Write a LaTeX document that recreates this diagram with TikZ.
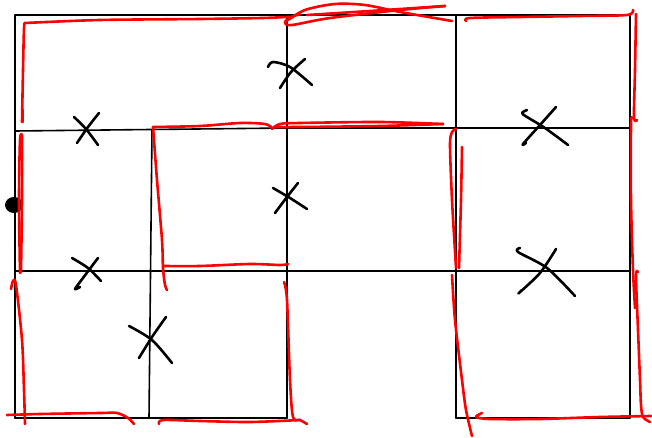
\documentclass[tikz,border=0pt]{standalone}
\begin{document}
\begin{tikzpicture}[x=1pt,y=-1pt,
  gridline/.style={line width=1.6pt,black,line cap=round},
  redline/.style={line width=2.6pt,red,line cap=round,line join=round},
  xmark/.style={line width=2.6pt,black,line cap=round,line join=round}]
\useasboundingbox (0,0) rectangle (652,438);
% black grid
\draw[gridline] (15,15) -- (630,15);
\draw[gridline] (15,15) -- (15,418);
\draw[gridline] (630,15) -- (630,418);
\draw[gridline] (287,15) -- (287,418);
\draw[gridline] (456,15) -- (456,418);
\draw[gridline] (15,131) -- (287,128) -- (630,128);
\draw[gridline] (15,271) -- (630,271);
\draw[gridline] (152,130) -- (149,418);
\draw[gridline] (15,418) -- (287,418);
\draw[gridline] (456,418) -- (630,418);
% dot
\fill (14,205) ellipse [x radius=9, y radius=8];
% red strokes
\draw[redline] plot[smooth] coordinates {(22,122)(23,70)(24,28)(25,23)};
\draw[redline] plot[smooth] coordinates {(25,23)(100,20)(200,19)(262,18)(287,17)(293,17)};
\draw[redline] plot[smooth] coordinates {(23,110)(23,122)};
% top scribble
\draw[redline] plot[smooth] coordinates {(300,14)(289,18)(285,23)(292,25)(330,18)(400,10)(445,6)};
\draw[redline] plot[smooth] coordinates {(285,22)(305,10)(335,4)(365,5)(400,12)(452,21)};
\draw[redline] plot[smooth] coordinates {(307,15)(370,11)(445,6)};
% top right
\draw[redline] plot[smooth] coordinates {(466,21)(470,18)(520,17)(580,16)(627,15)(633,10)};
\draw[redline] plot[smooth] coordinates {(636,14)(635,70)(634,117)(637,120)};
\draw[redline] plot[smooth] coordinates {(632,118)(631,125)(631,200)(633,270)(635,308)};
\draw[redline] plot[smooth] coordinates {(638,272)(636,276)(638,330)(640,380)(641,405)(643,417)(650,422)};
% bottom right
\draw[redline] plot[smooth] coordinates {(651,416)(600,417)(540,419)(490,419)(476,417)(482,413)};
\draw[redline] plot[smooth] coordinates {(452,275)(455,320)(462,380)(466,410)(472,436)};
\draw[redline] plot[smooth] coordinates {(462,147)(461,200)(459,268)};
\draw[redline] plot[smooth] coordinates {(456,268)(452,200)(450,145)(452,132)(456,129)};
% middle horizontal loop
\draw[redline] plot[smooth] coordinates {(272,129)(280,124)(300,123)(380,122)(443,124)};
\draw[redline] plot[smooth] coordinates {(443,124)(380,126)(300,127)(275,127)};
% middle-left cell
\draw[redline] plot[smooth] coordinates {(153,127)(200,126)(240,123)(265,124)(272,128)};
\draw[redline] plot[smooth] coordinates {(153,127)(157,180)(162,240)(163,268)(165,285)(167,290)};
\draw[redline] plot[smooth] coordinates {(164,266)(200,266)(250,264)(280,265)(288,264)};
% left side
\draw[redline] plot[smooth] coordinates {(20,273)(19,200)(20,140)(22,135)};
\draw[redline] plot[smooth] coordinates {(22,135)(22,200)(21,272)};
% bottom left
\draw[redline] plot[smooth] coordinates {(11,289)(13,281)(16,285)(22,340)(24,390)(25,424)};
\draw[redline] plot[smooth] coordinates {(7,415)(40,414)(100,413)(117,413)(128,418)(134,424)};
\draw[redline] plot[smooth] coordinates {(284,282)(287,300)(290,380)(293,417)(300,420)(307,424)};
\draw[redline] plot[smooth] coordinates {(159,424)(163,420)(200,421)(250,422)(300,420)};
% X marks
\draw[xmark] plot[smooth] coordinates {(74,117)(86,129)(98,145)};
\draw[xmark] plot[smooth] coordinates {(77,143)(88,127)(99,113)};
\draw[xmark] plot[smooth] coordinates {(268,67)(273,62)(290,67)(312,85)};
\draw[xmark] plot[smooth] coordinates {(280,88)(291,72)(305,59)};
\draw[xmark] plot[smooth] coordinates {(273,188)(290,198)(307,209)};
\draw[xmark] plot[smooth] coordinates {(275,213)(287,197)(298,183)};
\draw[xmark] plot[smooth] coordinates {(72,258)(88,268)(101,281)};
\draw[xmark] plot[smooth] coordinates {(98,258)(83,278)(75,289)(80,287)};
\draw[xmark] plot[smooth] coordinates {(129,326)(152,340)(172,363)};
\draw[xmark] plot[smooth] coordinates {(166,317)(152,337)(139,358)};
\draw[xmark] plot[smooth] coordinates {(527,110)(522,113)(527,117)(545,128)(568,145)};
\draw[xmark] plot[smooth] coordinates {(556,107)(540,125)(523,144)(526,143)};
\draw[xmark] plot[smooth] coordinates {(520,248)(518,252)(547,268)(575,296)};
\draw[xmark] plot[smooth] coordinates {(556,249)(540,273)(519,293)(522,290)};
\end{tikzpicture}
\end{document}
